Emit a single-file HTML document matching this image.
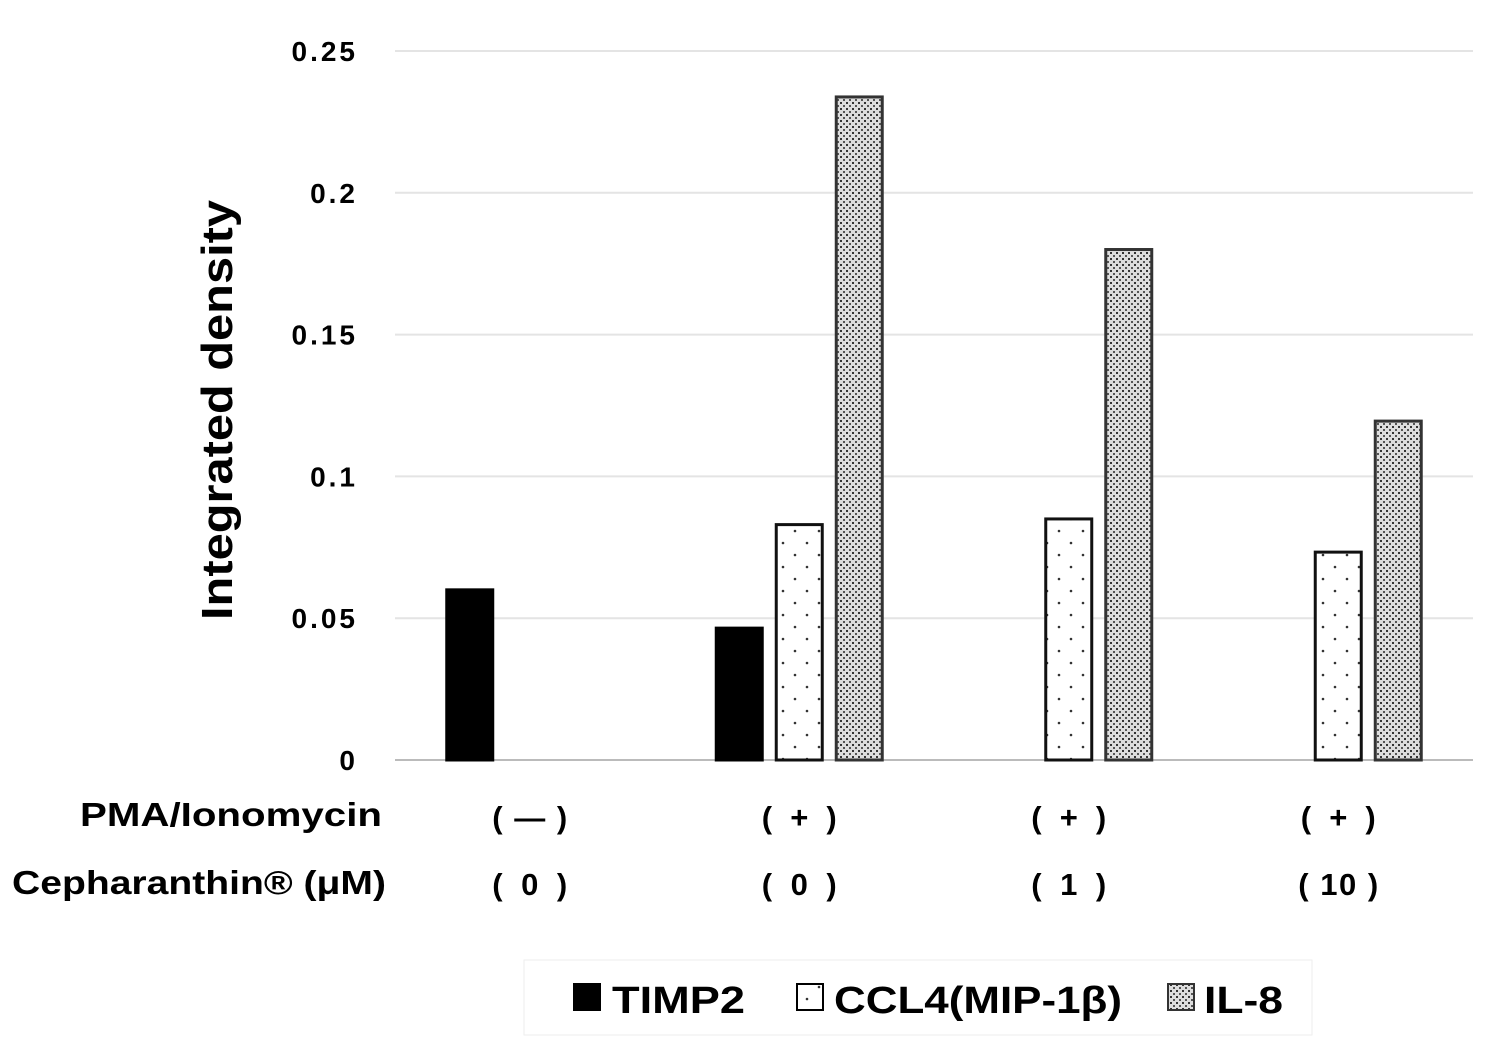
<!DOCTYPE html>
<html><head><meta charset="utf-8"><style>
html,body{margin:0;padding:0;background:#fff;}
svg{display:block;}
text{font-family:"Liberation Sans",sans-serif;font-weight:bold;fill:#000;}
</style></head><body>
<svg id="chart" width="1501" height="1037" viewBox="0 0 1501 1037" xmlns="http://www.w3.org/2000/svg">
<defs>
<pattern id="dots" width="24" height="24" patternUnits="userSpaceOnUse">
<rect width="24" height="24" fill="#fff"/>
<circle cx="3" cy="3" r="1.3" fill="#333"/><circle cx="15" cy="15" r="1.3" fill="#333"/>
</pattern>
<pattern id="dense" width="6" height="6" patternUnits="userSpaceOnUse">
<rect width="6" height="6" fill="#ddd"/>
<rect x="0" y="0" width="2" height="2" fill="#333"/><rect x="3" y="3" width="2" height="2" fill="#555"/>
</pattern>
</defs>
<g id="grid"></g>
<g id="bars"></g>
<g id="ylabels"></g>
<text transform="translate(232,410) rotate(-90)" text-anchor="middle" font-size="44" textLength="420" lengthAdjust="spacingAndGlyphs">Integrated density</text>
<text x="80" y="826" font-size="33" textLength="302" lengthAdjust="spacingAndGlyphs">PMA/Ionomycin</text>
<text x="12" y="894" font-size="33" textLength="374" lengthAdjust="spacingAndGlyphs">Cepharanthin® (μM)</text>
<g id="xlabels"></g>
<g>
<rect x="524" y="960" width="788" height="75" fill="#fff" stroke="#eee"/>
<rect x="573" y="983" width="28" height="28" fill="#000"/>
<text x="612" y="1013" font-size="38" textLength="133" lengthAdjust="spacingAndGlyphs">TIMP2</text>
<rect x="797" y="984" width="26" height="26" fill="url(#dots)" stroke="#000" stroke-width="2"/>
<text x="834" y="1013" font-size="38" textLength="288" lengthAdjust="spacingAndGlyphs">CCL4(MIP-1β)</text>
<rect x="1168" y="984" width="26" height="26" fill="url(#dense)" stroke="#333" stroke-width="2"/>
<text x="1204" y="1013" font-size="38" textLength="79" lengthAdjust="spacingAndGlyphs">IL-8</text>
</g>
</svg>
<script>
const categories = ["1","2","3","4"];
const pmaLabels = ["( — )","( + )","( + )","( + )"];
const cephLabels = ["( 0 )","( 0 )","( 1 )","( 10 )"];
const timp2 = [0.06, 0.0465, 0, 0];
const ccl4 = [0, 0.083, 0.085, 0.0733];
const il8 = [0, 0.2338, 0.180, 0.1195];
const yTicks = [0, 0.05, 0.1, 0.15, 0.2, 0.25];
const yTickLabels = ["0","0.05","0.1","0.15","0.2","0.25"];

const NS = "http://www.w3.org/2000/svg";
const x0 = 395, x1 = 1473, yBase = 760, yTop = 51;
const y = v => yBase - (v / 0.25) * (yBase - yTop);
const band = (x1 - x0) / categories.length;
const xc = i => x0 + band * (i + 0.5);
function mk(tag, attrs, parent){const e=document.createElementNS(NS,tag);for(const k in attrs)e.setAttribute(k,attrs[k]);parent.appendChild(e);return e;}

const grid = document.getElementById('grid');
const yl = document.getElementById('ylabels');
yTicks.forEach((t,i)=>{
  const l = mk('line',{x1:x0,x2:x1,y1:y(t),y2:y(t),stroke:i===0?'#bbb':'#e4e4e4','stroke-width':2},grid);
  
  
  const tx = mk('text',{x:358,y:y(t)+10,'text-anchor':'end','font-size':28,'letter-spacing':3},yl);
  tx.textContent = yTickLabels[i];
  
  
});

const bars = document.getElementById('bars');
const series = [[timp2,'#000','#000','timp2'],[ccl4,'url(#dots)','#111','ccl4'],[il8,'url(#dense)','#333','il8']];
const bw = 46, step = 60;
categories.forEach((c,i)=>{
  series.forEach((s,j)=>{
    const v = s[0][i];
    if(!v) return;
    const bx = xc(i) + (j-1)*step - bw/2;
    const r = mk('rect',{x:bx,y:y(v),width:bw,height:yBase-y(v),fill:s[1],stroke:s[2],'stroke-width':3},bars);
    
    
  });
});

const xl = document.getElementById('xlabels');
categories.forEach((c,i)=>{
  const a = mk('text',{x:xc(i),y:828,'text-anchor':'middle','font-size':31,textLength:75,lengthAdjust:'spacing'},xl);
  a.textContent = pmaLabels[i];
  
  
  const b = mk('text',{x:xc(i),y:895,'text-anchor':'middle','font-size':31,textLength:cephLabels[i].length>5?80:75,lengthAdjust:'spacing'},xl);
  b.textContent = cephLabels[i];
  
  
});
</script>
</body></html>
